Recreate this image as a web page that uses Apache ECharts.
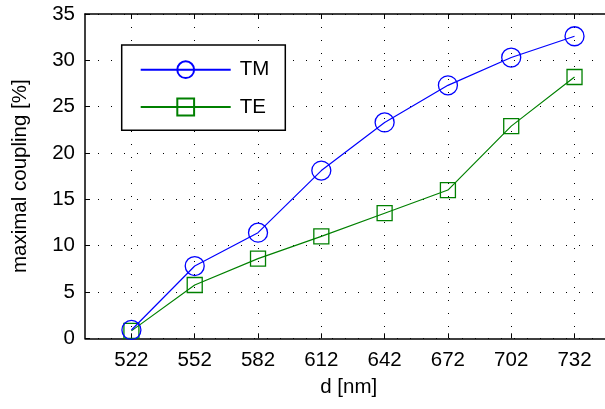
<!DOCTYPE html>
<html>
<head>
<meta charset="utf-8">
<script src="https://cdn.jsdelivr.net/npm/echarts@6/dist/echarts.min.js"></script>
<style>
html,body{margin:0;padding:0;background:#fff;}
#chart{width:605px;height:409px;}
</style>
</head>
<body>
<div id="chart"></div>
<script>
const dValues = [522, 552, 582, 612, 642, 672, 702, 732];
const tmValues = [0.9, 7.8, 11.4, 18.1, 23.3, 27.3, 30.3, 32.6];
const teValues = [0.8, 5.75, 8.6, 11.0, 13.5, 16.0, 22.9, 28.2];
const yTicks = [0, 5, 10, 15, 20, 25, 30, 35];

const FONT = '"Liberation Sans", Arial, Helvetica, sans-serif';
const chart = echarts.init(document.getElementById('chart'), null, {renderer: 'canvas'});

function pairs(xs, ys) { return xs.map((x, i) => [x, ys[i]]); }

const dotted = {show: true, lineStyle: {color: '#000', width: 1, type: [1, 12]}};

chart.setOption({
  animation: false,
  backgroundColor: '#fff',
  textStyle: {fontFamily: FONT},
  grid: {left: 85, top: 14, height: 324.3, width: 527.5, containLabel: false, outerBoundsMode: 'none'},
  legend: {
    orient: 'vertical',
    left: 121.7, top: 45,
    padding: [14.2, 16, 12.8, 18],
    itemGap: 16.3,
    itemWidth: 90, itemHeight: 21,
    borderColor: '#000', borderWidth: 1.5,
    backgroundColor: '#fff',
    textStyle: {fontSize: 20.5, color: '#000', fontFamily: FONT, padding: [0, 0, 0, 4]},
    data: ['TM', 'TE']
  },
  xAxis: [{
    type: 'value', min: 500, max: 750,
    name: 'd [nm]', nameLocation: 'middle', nameGap: 39,
    nameTextStyle: {fontSize: 20.5, color: '#000', fontFamily: FONT},
    axisLine: {show: true, lineStyle: {color: '#000', width: 1.5}},
    axisTick: {show: true, inside: true, length: 5, lineStyle: {color: '#000'}, customValues: dValues},
    axisLabel: {show: true, fontSize: 20.5, color: '#000', margin: 12, fontFamily: FONT, customValues: dValues},
    splitLine: dotted
  }, {
    type: 'value', min: 500, max: 750, position: 'top',
    axisLine: {show: true, lineStyle: {color: '#000', width: 1.5}},
    axisTick: {show: true, inside: true, length: 5, lineStyle: {color: '#000'}, customValues: dValues},
    axisLabel: {show: false},
    splitLine: {show: false}
  }],
  yAxis: {
    type: 'value', min: 0, max: 35, interval: 5,
    name: 'maximal coupling [%]', nameLocation: 'middle', nameGap: 54, nameRotate: 90,
    nameTextStyle: {fontSize: 20.5, color: '#000', fontFamily: FONT},
    axisLine: {show: true, lineStyle: {color: '#000', width: 1.5}},
    axisTick: {show: true, inside: true, length: 5, lineStyle: {color: '#000'}},
    axisLabel: {show: true, fontSize: 20.5, color: '#000', margin: 10, fontFamily: FONT,
      formatter: v => yTicks.includes(v) ? String(v) : ''},
    splitLine: dotted
  },
  series: [{
    name: 'TM', type: 'line', data: pairs(dValues, tmValues),
    symbol: 'circle', symbolSize: 19,
    lineStyle: {color: '#0000ff', width: 1.2},
    itemStyle: {color: 'transparent', borderColor: '#0000ff', borderWidth: 1.3},
    emphasis: {disabled: true}, z: 3
  }, {
    name: 'TE', type: 'line', data: pairs(dValues, teValues),
    symbol: 'rect', symbolSize: 15,
    lineStyle: {color: '#008000', width: 1.2},
    itemStyle: {color: 'transparent', borderColor: '#008000', borderWidth: 1.3},
    emphasis: {disabled: true}, z: 2
  }]
});
</script>
</body>
</html>
